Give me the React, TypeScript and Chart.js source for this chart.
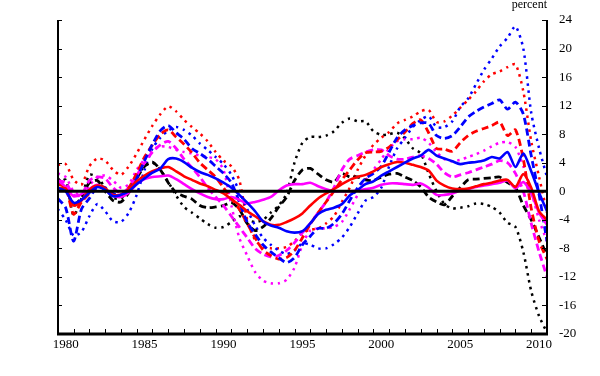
import React, { useEffect, useRef } from 'react';
import { Chart, registerables } from 'chart.js';
Chart.register(...registerables);

// Half-year time points (1979.5 .. 2010.5)
const PERIODS = [
  1979.5, 1980, 1980.5, 1981, 1981.5, 1982, 1982.5, 1983, 1983.5, 1984, 1984.5,
  1985, 1985.5, 1986, 1986.5, 1987, 1987.5, 1988, 1988.5, 1989, 1989.5,
  1990, 1990.5, 1991, 1991.5, 1992, 1992.5, 1993, 1993.5, 1994, 1994.5,
  1995, 1995.5, 1996, 1996.5, 1997, 1997.5, 1998, 1998.5, 1999, 1999.5,
  2000, 2000.5, 2001, 2001.5, 2002, 2002.5, 2003, 2003.5, 2004, 2004.5,
  2005, 2005.5, 2006, 2006.5, 2007, 2007.5, 2008, 2008.5, 2009, 2009.5,
  2010, 2010.5,
];

const X_TICKS = [1980, 1985, 1990, 1995, 2000, 2005, 2010];
const Y_TICKS = [-20, -16, -12, -8, -4, 0, 4, 8, 12, 16, 20, 24];

const blueSolid = [
  0.5, 0, -1.6, -1.2, -0.2, 0.6, 0.2, -0.7, -0.5, 0, 1.0,
  1.8, 2.6, 3.2, 4.5, 4.6, 4.1, 3.3, 2.7, 2.3, 1.8,
  1.2, 0.5, -0.5, -1.6, -2.8, -4.2, -4.8, -5.1, -5.6, -5.8,
  -5.6, -4.5, -3.2, -2.6, -2.3, -1.8, -0.6, 0.2, 1.0, 1.4,
  2.2, 2.8, 3.4, 4.0, 4.6, 5.0, 5.8, 5.0, 4.6, 4.2,
  3.8, 4.0, 4.1, 4.3, 4.8, 4.6, 5.5, 3.4, 5.3, 2.8,
  -0.2, -2.8,
];
const redSolid = [
  0.4, 0.4, -2.0, -1.3, 0.2, 0.8, 0.4, -0.5, -0.5, 0.3, 1.4,
  2.2, 2.8, 3.2, 3.4, 2.8, 2.1, 1.6, 1.1, 0.7, 0.2,
  -0.3, -1.1, -1.9, -2.8, -3.5, -4.2, -4.7, -4.7, -4.3, -3.8,
  -3.1, -2.0, -1.0, -0.3, 0.3, 1.0, 1.6, 2.0, 2.3, 2.8,
  3.4, 3.8, 4.1, 4.0, 3.7, 3.4, 2.9, 1.5, 0.8, 0.4,
  0.3, 0.4, 0.7, 1.0, 1.2, 1.5, 1.6, 0.6, 2.4, 0.5,
  -2.8, -4.0,
];
const magentaSolid = [
  1.5, 0.6, -0.7, -0.4, 0.3, 0.9, 0.2, -0.6, -0.8, -0.2, 1.0,
  1.7, 2.0, 2.1, 2.2, 1.7, 1.0, 0.3, -0.3, -0.8, -1.1,
  -1.1, -0.8, -1.2, -1.7, -1.5, -1.2, -0.8, 0.1, 0.8, 1.0,
  1.0, 1.2, 0.7, 0.3, 0.0, 0.0, 0.0, 0.1, 0.3, 0.5,
  0.9, 1.1, 1.1, 1.0, 0.9, 1.1, 0.5, -0.5, -0.5, -0.3,
  0.1, 0.3, 0.6, 0.8, 1.0, 1.2, 1.5, 0.4, 1.3, -0.3,
  -3.0, -4.7,
];
const blueDashed = [
  -1.0, -2.3, -7.0, -2.5, -1.0, 0.6, 0.5, -0.3, -0.6, 0.2, 1.8,
  4.3, 6.6, 8.5, 9.2, 8.2, 7.3, 6.0, 5.3, 4.5, 3.5,
  2.5, 1.2, -1.5, -4.3, -6.0, -7.5, -8.5, -9.3, -10.0, -9.3,
  -7.5, -6.3, -5.2, -5.2, -4.5, -3.2, -1.3, 0.5, 1.8, 2.5,
  3.5, 5.5, 7.5, 8.6, 9.2, 9.6, 9.5, 7.8, 7.4, 7.8,
  9.0, 10.4, 11.2, 11.8, 12.3, 12.8, 11.5, 12.5, 10.8, 5.0,
  -0.5, -7.0,
];
const blueDotted = [
  -2.5, -4.0, -6.2, -5.7, -3.5, -1.8, -2.8, -4.2, -4.3, -3.0, -0.5,
  3.0, 6.0, 7.5, 8.5, 9.0, 8.6, 7.8, 6.7, 5.8, 4.8,
  3.8, 2.3, 0.0, -2.5, -4.8, -6.5, -7.5, -8.3, -8.8, -8.3,
  -7.3, -7.5, -8.0, -8.0, -7.4, -6.5, -5.0, -3.1, -1.3, -0.8,
  0.5, 3.5, 6.0, 7.5, 9.0, 10.0, 10.5, 9.0, 9.0, 9.8,
  11.8, 13.0, 15.0, 17.0, 18.6, 20.3, 21.5, 23.1, 20.0, 11.0,
  6.0, 2.0,
];
const redDashed = [
  1.0, 0.5, -3.2, -1.5, -0.3, 0.8, 0.5, -0.5, -0.5, 0.5, 2.5,
  4.8, 6.5, 8.0, 8.6, 7.6, 6.6, 5.4, 4.0, 3.0, 2.0,
  0.5, -1.0, -2.5, -4.5, -6.5, -8.2, -9.0, -9.5, -9.3, -8.3,
  -6.5, -4.6, -3.0, -1.5, 0.0, 1.6, 3.0, 4.4, 5.4, 5.5,
  5.6, 6.2, 7.2, 8.3, 9.5, 10.0, 8.2, 6.0, 5.9, 5.6,
  6.8, 7.8, 8.4, 8.8, 9.2, 9.7, 7.8, 8.6, 4.5, -2.4,
  -7.0, -9.5,
];
const redDotted = [
  3.7, 3.8, 1.6, 0.9, 3.5, 4.6, 4.3, 3.0, 2.3, 3.5, 5.3,
  7.3, 9.2, 10.8, 11.9, 11.2, 10.0, 9.0, 8.1, 7.0, 5.5,
  4.3, 3.5, 1.6, -4.0, -6.8, -7.8, -8.0, -8.0, -7.8, -7.0,
  -5.8, -5.4, -5.2, -4.5, -3.5, -1.5, 0.5, 3.0, 5.0, 6.5,
  7.5, 8.3, 9.5, 10.0, 10.5, 11.2, 11.4, 9.7, 9.8, 10.6,
  11.7, 12.8, 14.0, 15.4, 16.4, 16.8, 17.4, 17.8, 14.0, 7.0,
  2.0, -3.0,
];
const magentaDashed = [
  1.5, 1.2, -0.5, -0.5, 1.5, 2.0, 1.8, 0.5, -0.3, 0.5, 2.2,
  4.0, 5.5, 6.5, 7.0, 6.0, 4.5, 3.3, 2.0, 0.5, -0.8,
  -2.0, -3.5, -5.0, -6.5, -8.0, -8.8, -9.2, -9.0, -8.3, -7.2,
  -5.8, -4.5, -3.0, -1.5, 0.5, 3.0, 4.5, 5.0, 5.5, 5.8,
  5.8, 5.0, 4.5, 4.5, 4.8, 5.0, 4.6, 3.8, 2.6, 2.0,
  2.3, 2.6, 3.0, 3.4, 3.8, 4.3, 4.0, 2.5, 0.0, -4.5,
  -8.5, -12.0,
];
const magentaDotted = [
  2.5, 2.0, 0.0, -0.5, 0.8, 2.0, 2.2, 1.5, 0.5, 1.0, 3.0,
  4.5, 5.8, 6.3, 6.2, 5.8, 5.5, 5.3, 5.0, 4.8, 4.5,
  3.0, -2.0, -6.5, -9.0, -11.3, -12.5, -12.9, -12.9, -12.4, -10.7,
  -7.5, -5.5, -5.2, -5.2, -5.0, -4.3, -2.5, -0.5, 1.5, 3.0,
  4.5, 6.0, 7.0, 7.3, 7.3, 7.5, 6.8, 5.5, 4.5, 4.2,
  4.4, 4.8, 5.2, 5.7, 6.3, 6.8, 6.9, 6.2, 3.5, 0.0,
  -4.0, -7.0,
];
const blackDashed = [
  1.8, 0.5, -2.0, -0.8, 1.2, 1.5, 0.0, -1.3, -1.5, -0.2, 1.8,
  3.5, 4.1, 3.0, 1.2, -0.2, -0.7, -1.1, -2.0, -2.3, -2.2,
  -2.0, -1.6, -2.5, -4.5, -5.5, -5.0, -3.8, -2.2, -0.8, 1.5,
  3.0, 3.2, 2.4, 1.6, 1.3, 2.5, 2.0, 2.0, 1.6, 1.5,
  2.0, 2.4, 2.5, 2.0, 1.5, 0.6, -0.8, -1.5, -1.9, -0.7,
  0.5, 1.6, 1.7, 1.8, 1.9, 2.0, 1.2, 0.5, -2.0, -4.0,
  -6.5, -9.0,
];
const blackDotted = [
  1.0, 1.6, -3.4, -1.0, 2.3, 2.0, 0.5, -0.9, -1.0, 0.0, 2.0,
  3.5, 4.0, 3.0, 1.3, -0.6, -2.2, -3.0, -3.8, -4.6, -5.1,
  -5.0, -4.3, -3.5, -4.0, -4.3, -4.0, -3.0, -2.0, -0.3, 4.0,
  6.8, 7.6, 7.6, 7.8, 8.4, 9.6, 10.2, 9.8, 9.8, 8.4,
  7.9, 8.0, 8.2, 7.4, 6.0, 5.3, 2.5, 0.0, -1.8, -2.4,
  -2.3, -2.1, -1.7, -1.8, -2.2, -3.0, -4.4, -5.0, -8.5, -14.0,
  -17.5, -19.8,
];

const BLUE = '#0000ff';
const RED = '#ff0000';
const MAGENTA = '#ff00ff';
const BLACK = '#000000';

const SOLID: number[] = [];
const DASHED = [7, 4];
const DOTTED = [2.5, 4.5];

const SERIES = [
  { name: 'blue solid', values: blueSolid, color: BLUE, dash: SOLID, width: 2.6 },
  { name: 'red solid', values: redSolid, color: RED, dash: SOLID, width: 2.6 },
  { name: 'magenta solid', values: magentaSolid, color: MAGENTA, dash: SOLID, width: 2.6 },
  { name: 'blue dashed', values: blueDashed, color: BLUE, dash: DASHED, width: 2.8 },
  { name: 'red dashed', values: redDashed, color: RED, dash: DASHED, width: 2.8 },
  { name: 'magenta dashed', values: magentaDashed, color: MAGENTA, dash: DASHED, width: 2.8 },
  { name: 'black dashed', values: blackDashed, color: BLACK, dash: DASHED, width: 2.8 },
  { name: 'blue dotted', values: blueDotted, color: BLUE, dash: DOTTED, width: 2.5 },
  { name: 'red dotted', values: redDotted, color: RED, dash: DOTTED, width: 2.5 },
  { name: 'magenta dotted', values: magentaDotted, color: MAGENTA, dash: DOTTED, width: 2.5 },
  { name: 'black dotted', values: blackDotted, color: BLACK, dash: DOTTED, width: 2.5 },
];

const FONT = '"Liberation Serif", "Times New Roman", serif';

const framePlugin = {
  id: 'frame',
  afterDatasetsDraw(chart: any) {
    const { ctx, chartArea, scales } = chart;
    const { left, right, top, bottom } = chartArea;
    const x = scales.x;
    const y = scales.y;
    ctx.save();
    ctx.setLineDash([]);
    ctx.strokeStyle = '#000';
    // zero line
    const y0 = y.getPixelForValue(0);
    ctx.lineWidth = 3;
    ctx.beginPath();
    ctx.moveTo(left, y0);
    ctx.lineTo(right, y0);
    ctx.stroke();
    // left and right axis lines
    ctx.lineWidth = 2;
    ctx.beginPath();
    ctx.moveTo(left + 1, top);
    ctx.lineTo(left + 1, bottom);
    ctx.moveTo(right, top);
    ctx.lineTo(right, bottom);
    ctx.stroke();
    // bottom axis line
    ctx.lineWidth = 3;
    ctx.beginPath();
    ctx.moveTo(left, bottom);
    ctx.lineTo(right + 1, bottom);
    ctx.stroke();
    // y ticks (inside, both sides)
    ctx.lineWidth = 1;
    ctx.beginPath();
    for (const v of Y_TICKS) {
      const py = Math.round(y.getPixelForValue(v)) + 0.5;
      ctx.moveTo(left, py);
      ctx.lineTo(left + 5, py);
      ctx.moveTo(right, py);
      ctx.lineTo(right - 5, py);
    }
    // x minor ticks (every year, inside)
    for (let yr = 1980; yr <= 2009; yr++) {
      const px = Math.round(x.getPixelForValue(yr + 0.5)) + 0.5;
      ctx.moveTo(px, bottom);
      ctx.lineTo(px, bottom - 5);
    }
    ctx.stroke();
    // unit label
    ctx.fillStyle = '#000';
    ctx.font = '12px ' + FONT;
    ctx.textAlign = 'right';
    ctx.textBaseline = 'alphabetic';
    ctx.fillText('percent', right, 8);
    ctx.restore();
  },
};

export default function App() {
  const ref = useRef<HTMLCanvasElement | null>(null);
  useEffect(() => {
    if (!ref.current) return;
    const chart = new Chart(ref.current, {
      type: 'line',
      data: {
        datasets: SERIES.map((s) => ({
          label: s.name,
          data: PERIODS.map((p, i) => ({ x: p, y: s.values[i] })),
          borderColor: s.color,
          backgroundColor: s.color,
          borderWidth: s.width,
          borderDash: s.dash,
          borderCapStyle: 'butt',
          pointRadius: 0,
          tension: 0.25,
          fill: false,
        })),
      },
      options: {
        responsive: false,
        animation: false,
        events: [],
        layout: { padding: { left: 57, top: 20, right: 0, bottom: 0 } },
        plugins: { legend: { display: false }, tooltip: { enabled: false } },
        scales: {
          x: {
            type: 'linear',
            position: 'bottom',
            min: 1979.45,
            max: 2010.5,
            grid: { display: false, drawTicks: false },
            border: { display: false },
            afterBuildTicks: (scale: any) => {
              scale.ticks = X_TICKS.map((v) => ({ value: v }));
            },
            afterFit: (scale: any) => {
              scale.height = 42;
            },
            ticks: {
              autoSkip: false,
              maxRotation: 0,
              padding: 3,
              color: '#000',
              font: { family: FONT, size: 13 },
              callback: (v: any) => String(v),
            },
          },
          y: {
            type: 'linear',
            position: 'right',
            min: -20,
            max: 24,
            grid: { display: false, drawTicks: false },
            border: { display: false },
            afterBuildTicks: (scale: any) => {
              scale.ticks = Y_TICKS.map((v) => ({ value: v }));
            },
            afterFit: (scale: any) => {
              scale.width = 53;
            },
            ticks: {
              autoSkip: false,
              padding: 12,
              color: '#000',
              font: { family: FONT, size: 13 },
              callback: (v: any) => String(v),
            },
          },
        },
      },
      plugins: [framePlugin],
    });
    return () => chart.destroy();
  }, []);
  return (
    <div style={{ position: 'fixed', left: 0, top: 0, width: 600, height: 376, background: '#fff' }}>
      <canvas ref={ref} width={600} height={376} style={{ display: 'block' }} />
    </div>
  );
}
